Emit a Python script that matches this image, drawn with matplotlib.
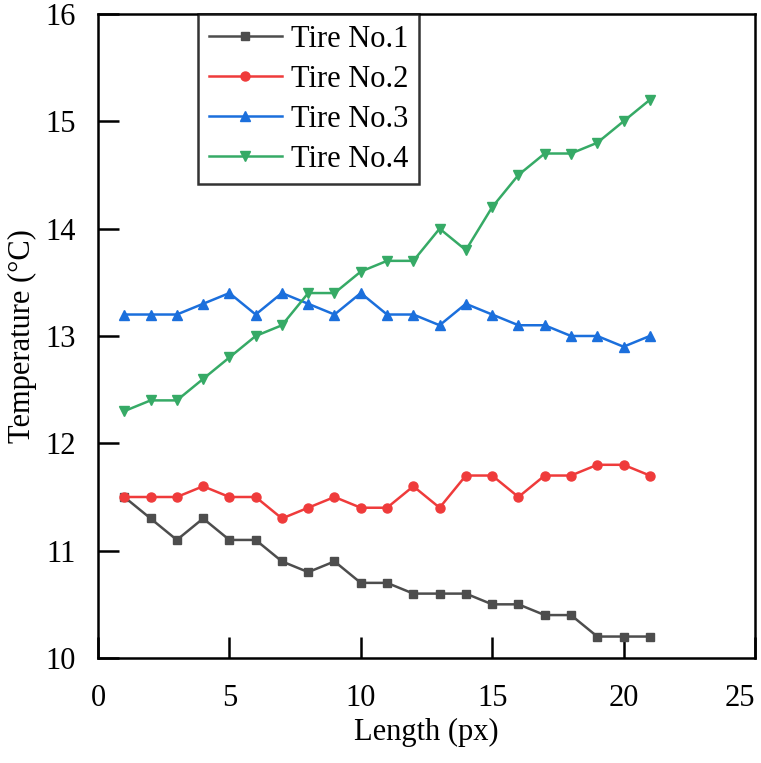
import numpy as np
import matplotlib.pyplot as plt

plt.rcParams['font.family'] = ['Liberation Serif', 'DejaVu Serif']

length = list(range(1, 22))

tire_1 = [11.5, 11.3, 11.1, 11.3, 11.1, 11.1, 10.9, 10.8, 10.9, 10.7, 10.7,
          10.6, 10.6, 10.6, 10.5, 10.5, 10.4, 10.4, 10.2, 10.2, 10.2]
tire_2 = [11.5, 11.5, 11.5, 11.6, 11.5, 11.5, 11.3, 11.4, 11.5, 11.4, 11.4,
          11.6, 11.4, 11.7, 11.7, 11.5, 11.7, 11.7, 11.8, 11.8, 11.7]
tire_3 = [13.2, 13.2, 13.2, 13.3, 13.4, 13.2, 13.4, 13.3, 13.2, 13.4, 13.2,
          13.2, 13.1, 13.3, 13.2, 13.1, 13.1, 13.0, 13.0, 12.9, 13.0]
tire_4 = [12.3, 12.4, 12.4, 12.6, 12.8, 13.0, 13.1, 13.4, 13.4, 13.6, 13.7,
          13.7, 14.0, 13.8, 14.2, 14.5, 14.7, 14.7, 14.8, 15.0, 15.2]

labels = ["Tire No.1", "Tire No.2", "Tire No.3", "Tire No.4"]

fig = plt.figure(figsize=(7.61, 7.63), dpi=100)
ax = fig.add_axes([0.1288, 0.1376, 0.8632, 0.8441])

ax.plot(length, tire_1, color="#4d4d4d", marker="s", ms=6, lw=1.8, label=labels[0])
ax.plot(length, tire_2, color="#ef3b3b", marker="o", ms=6.5, lw=1.8, label=labels[1])
ax.plot(length, tire_3, color="#1b6fdc", marker="^", ms=7.5, lw=1.8, label=labels[2])
ax.plot(length, tire_4, color="#36aa66", marker="v", ms=7.5, lw=1.8, label=labels[3])

ax.set_xlim(0, 25)
ax.set_ylim(10, 16)
ax.set_xticks([0, 5, 10, 15, 20, 25])
ax.set_yticks([10, 11, 12, 13, 14, 15, 16])
ax.tick_params(direction="in", length=15, width=1.8, labelsize=22)
ax.tick_params(axis="x", pad=19)
ax.tick_params(axis="y", pad=16)
for s in ax.spines.values():
    s.set_linewidth(1.8)

ax.set_xlabel("Length (px)", fontsize=22, labelpad=3)
ax.set_ylabel("Temperature (°C)", fontsize=22, labelpad=6)

leg = ax.legend(loc="upper left", bbox_to_anchor=(0.152, 1.0), fontsize=22,
                frameon=True, fancybox=False, edgecolor="black",
                borderaxespad=0, handlelength=2.4, labelspacing=0.36,
                handletextpad=0.3, borderpad=0.35)
leg.get_frame().set_linewidth(1.8)

fig.canvas.draw()
# last x label pulled left so it stays inside the figure
ax.get_xticklabels()[-1].set_horizontalalignment("right")

plt.savefig("out.png", dpi=100)
